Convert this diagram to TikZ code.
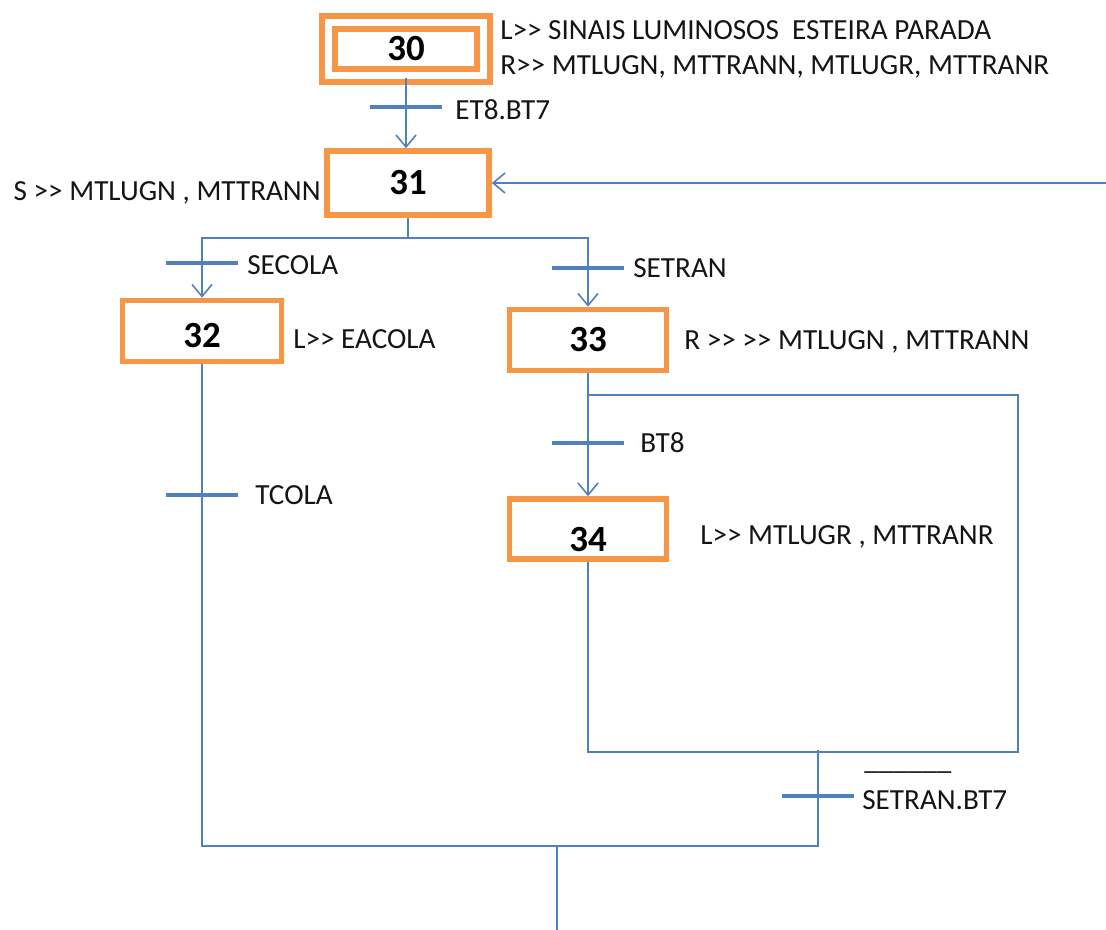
\documentclass[tikz,border=0pt]{standalone}
\usepackage{fontspec}
\setmainfont{Carlito}[Ligatures=TeXOff]
\usetikzlibrary{arrows.meta,positioning}
\definecolor{steporange}{RGB}{247,150,70}
\definecolor{linkblue}{RGB}{79,129,189}
\definecolor{actblack}{RGB}{20,20,20}

\begin{document}
\begin{tikzpicture}[x=0.02cm, y=-0.02cm, >={Straight Barb[length=2.4mm,width=4mm]},
  stepbox/.style={draw=steporange, line width=3.2pt, minimum width=3.2cm, minimum height=1.28cm,
    inner sep=0pt, font=\fontsize{21}{24}\selectfont\bfseries},
  initbox/.style={stepbox, double, double distance=4.5pt, line width=3pt,
    minimum width=3.1cm, minimum height=1.06cm},
  act/.style={anchor=west, inner sep=0pt, text=actblack, font=\fontsize{16.6}{19}\selectfont},
  link/.style={draw=linkblue, line width=0.9pt},
  bar/.style={draw=linkblue, line width=1.8pt}]
  \useasboundingbox (0,0) rectangle (1106,930);

  % steps
  \node[initbox] (s30) at (406,49) {30};
  \node[stepbox, minimum width=3.24cm] (s31) at (408,183) {31};
  \node[stepbox, minimum width=3.18cm, minimum height=1.22cm, text height=0.66cm, text depth=0pt] (s32) at (202,331) {32};
  \node[stepbox, minimum width=3.14cm, minimum height=1.22cm] (s33) at (588,340) {33};
  \node[stepbox, minimum width=3.14cm, minimum height=1.2cm, text height=0.88cm, text depth=0pt] (s34) at (588,529) {34};

  % actions
  \node[act] (a30a) at (500,30) {L>> SINAIS LUMINOSOS\ \ ESTEIRA PARADA};
  \node[act] (a30b) at (500,67) {R>> MTLUGN, MTTRANN, MTLUGR, MTTRANR};
  \node[act, anchor=east] (a31) at (321,193) {S >> MTLUGN , MTTRANN};
  \node[act] (a32) at (293,339) {L>> EACOLA};
  \node[act] (a33) at (684,342) {R >> >> MTLUGN , MTTRANN};
  \node[act] (a34) at (700,537) {L>> MTLUGR , MTTRANR};

  % transitions
  \coordinate (t1) at (406,107);
  \coordinate (t2) at (202,263);
  \coordinate (t3) at (588,268);
  \coordinate (t4) at (588,443);
  \coordinate (t5) at (202,495);
  \coordinate (t6) at (818,796);
  \foreach \t in {t1,t2,t3,t4,t5,t6}
    \draw[bar] (\t) ++(-36,0) -- ++(72,0);
  \node[act] (c1) at (455,110) {ET8.BT7};
  \node[act] (c2) at (247,265) {SECOLA};
  \node[act] (c3) at (633,268) {SETRAN};
  \node[act] (c4) at (640,443) {BT8};
  \node[act] (c5) at (255,495) {TCOLA};
  \node[act] (c6) at (862,800) {SETRAN.BT7};
  \node[act] (c6bar) at (864,771) {\_\_\_\_\_\_};

  % links
  \coordinate (back) at (1106,183);
  \coordinate (split) at (408,238);
  \coordinate (loopR) at (1018,395);
  \coordinate (loopB) at (1018,752);
  \coordinate (join) at (818,750);
  \coordinate (merge) at (557,846);
  \coordinate (down) at (557,930);
  \draw[link, ->] (s30.south) -- (s30.south |- s31.north);
  \draw[link, ->] (back) -- (s31.east);
  \draw[link] (s31.south) -- (split);
  \draw[link, ->] (split) -| (s32.north);
  \draw[link, ->] (split) -| (s33.north);
  \draw[link, ->] (s33.south) -- (s34.north);
  \draw[link] (s33.south |- loopR) -- (loopR) -- (loopB) -- (s34.south |- loopB) -- (s34.south);
  \draw[link] (join) -- (join |- merge) -- (s32.south |- merge) -- (s32.south);
  \draw[link] (merge) -- (down);
\end{tikzpicture}
\end{document}
